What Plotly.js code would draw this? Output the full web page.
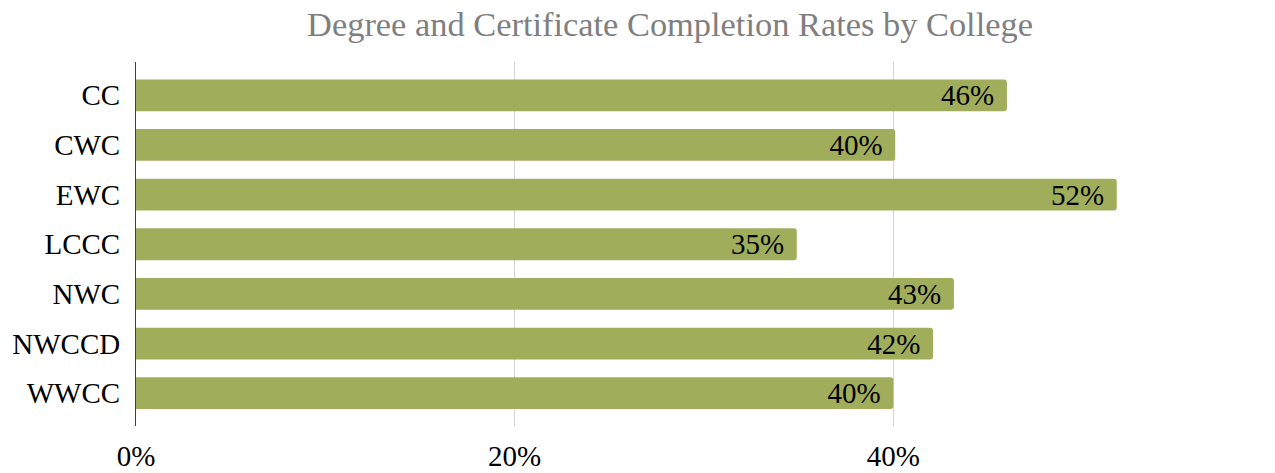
<!DOCTYPE html>
<html>
<head>
<meta charset="utf-8">
<script src="https://cdn.plot.ly/plotly-3.0.1.min.js"></script>
<style>html,body{margin:0;padding:0;background:#fff;}#chart{width:1275px;height:473px;}</style>
</head>
<body>
<div id="chart"></div>
<script>
const colleges = ["CC", "CWC", "EWC", "LCCC", "NWC", "NWCCD", "WWCC"];
const rates = [0.460, 0.401, 0.518, 0.349, 0.432, 0.421, 0.400];
const xTickVals = [0, 0.2, 0.4, 0.6];
const xTickText = ["0%", "20%", "40%", ""];

const FAM = "Liberation Serif";
const labels = rates.map(v => Math.round(v * 100) + "%\u2004");

const trace = {
  type: "bar",
  orientation: "h",
  y: colleges,
  x: rates,
  width: 0.64,
  text: labels,
  textposition: "inside",
  insidetextanchor: "end",
  constraintext: "none",
  textangle: 0,
  insidetextfont: {family: FAM, size: 29, color: "#000"},
  marker: {color: "#A0AE5C", cornerradius: 3},
  hoverinfo: "none",
  cliponaxis: false
};

const layout = {
  width: 1275,
  height: 473,
  margin: {l: 136, r: 3, t: 62, b: 47, pad: 0},
  paper_bgcolor: "#fff",
  plot_bgcolor: "#fff",
  showlegend: false,
  font: {family: FAM, color: "#000"},
  title: {
    text: "Degree and Certificate Completion Rates by College",
    font: {family: FAM, size: 34.4, color: "#7f7f7f"},
    x: 0.5255, xref: "container", xanchor: "center",
    y: 0.95, yref: "container", yanchor: "middle"
  },
  xaxis: {
    range: [0, 0.6],
    tickvals: xTickVals,
    ticktext: xTickText,
    showgrid: true,
    gridcolor: "#d4d4d4",
    gridwidth: 1,
    zeroline: false,
    showline: false,
    ticks: "",
    ticklabelstandoff: 10,
    tickfont: {family: FAM, size: 29, color: "#000"},
    fixedrange: true
  },
  yaxis: {
    range: [6.66, -0.67],
    type: "category",
    showgrid: false,
    zeroline: false,
    showline: true,
    linecolor: "#404040",
    linewidth: 1,
    ticks: "",
    ticklabelstandoff: 9,
    tickfont: {family: FAM, size: 29, color: "#000"},
    fixedrange: true
  }
};

Plotly.newPlot("chart", [trace], layout, {staticPlot: true, displayModeBar: false});
</script>
</body>
</html>
